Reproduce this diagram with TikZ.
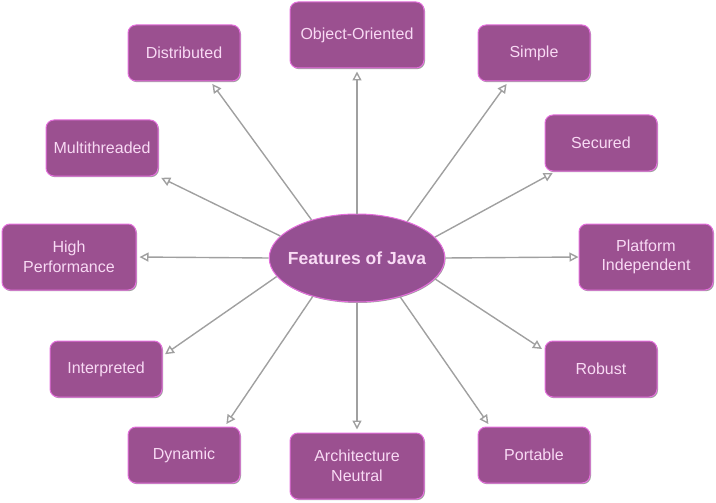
\documentclass[tikz,border=0pt]{standalone}
\usepackage{fontspec}
\setmainfont{Liberation Sans}
\usepackage{tikz}
\usetikzlibrary{positioning, calc, shapes, arrows.meta, shadows}

\definecolor{boxfill}{HTML}{9B5090}
\definecolor{hubfill}{HTML}{955092}
\definecolor{boxedge}{HTML}{E46EDC}
\definecolor{boxtext}{HTML}{F8DAF4}
\definecolor{linegray}{HTML}{A0A0A0}

\begin{document}
\begin{tikzpicture}[
    x=1pt, y=-1pt,
    feat/.style={rectangle, rounded corners=8pt, draw=boxedge, line width=1pt, fill=boxfill,
        drop shadow={shadow xshift=1pt, shadow yshift=-1.2pt, fill=linegray, opacity=1},
        text=boxtext, align=center, minimum width=112pt, minimum height=56pt,
        font=\fontsize{16}{19.5}\selectfont},
    bigfeat/.style={feat, minimum width=134pt, minimum height=66pt},
    hub/.style={ellipse, draw=boxedge, line width=1pt, fill=hubfill,
        drop shadow={shadow xshift=0.8pt, shadow yshift=-1pt, fill=linegray, opacity=1},
        text=boxtext, minimum height=88pt, inner xsep=-7pt, inner ysep=0pt,
        font=\fontsize{17.5}{20}\selectfont\bfseries},
    arrow/.style={-{Triangle[open, length=9pt, width=9pt, fill=white]}, draw=linegray, line width=1.4pt, shorten >=3pt}
]
    \useasboundingbox (0,0) rectangle (716,503);

    \node[hub] (features) at (357,258) {Features of Java};

    \node[bigfeat] (oo) at (357,35) {Object-Oriented};
    \node[feat] (dist) at (184,53) {Distributed};
    \node[feat] (simple) at (534,53) {Simple};
    \node[feat] (multi) at (102,148) {Multithreaded};
    \node[feat] (secured) at (601,143) {Secured};
    \node[bigfeat] (highperf) at (69,257) {High\\Performance};
    \node[bigfeat] (platform) at (646,257) {Platform\\Independent};
    \node[feat] (interp) at (106,369) {Interpreted};
    \node[feat] (robust) at (601,369) {Robust};
    \node[feat] (dynamic) at (184,455) {Dynamic};
    \node[bigfeat] (archneutral) at (357,466) {Architecture\\Neutral};
    \node[feat] (portable) at (534,455) {Portable};

    \draw[arrow] (features.90) -- (oo.south);
    \draw[arrow] (features.140) -- (dist.313);
    \draw[arrow] (features.36) -- (simple.228);
    \draw[arrow] (features.164) -- (multi.south east);
    \draw[arrow] (features.15) -- (secured.212);
    \draw[arrow] (features.180) -- (highperf.east);
    \draw[arrow, shorten >=0pt] (features.0) -- (platform.west);
    \draw[arrow] (features.193) -- (interp.13);
    \draw[arrow] (features.345) -- (robust.162);
    \draw[arrow] (features.221) -- (dynamic.35);
    \draw[arrow] (features.270) -- (archneutral.north);
    \draw[arrow] (features.318) -- (portable.147);

\end{tikzpicture}
\end{document}
